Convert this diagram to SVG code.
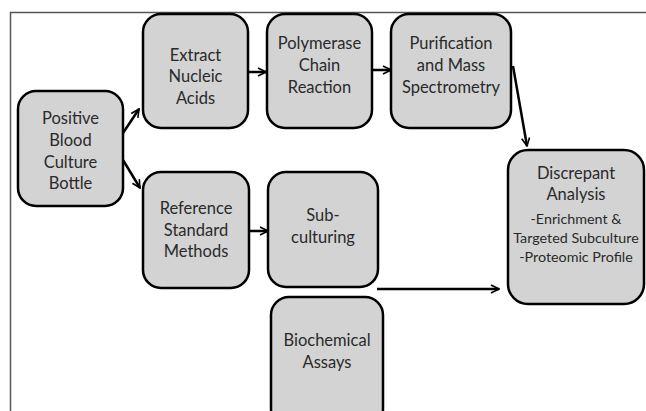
<svg xmlns="http://www.w3.org/2000/svg" width="646" height="411" viewBox="0 0 646 411">
<defs>
<style>
.box{fill:#d3d3d3;stroke:#000;stroke-width:2.5}
.t{font-family:Lato,"Liberation Sans",sans-serif;font-size:16.5px;fill:#2a2a2a;text-anchor:middle}
.s{font-size:14.3px}
.c{fill:none;stroke:#000;stroke-width:2.5}
.frame{fill:none;stroke:#555;stroke-width:1.5}
</style>
<marker id="ah" viewBox="0 0 10 10" refX="9" refY="5" markerWidth="4" markerHeight="4" orient="auto" markerUnits="strokeWidth">
<path d="M1,1 L9,5 L1,9" fill="none" stroke="#000" stroke-width="1.6"/>
</marker>
</defs>
<rect width="646" height="411" fill="#fff"/>
<path class="frame" d="M10.5,411 V12.5 H646"/>
<g id="connectors">
<line class="c" x1="123" y1="133" x2="139" y2="109" marker-end="url(#ah)"/>
<line class="c" x1="123" y1="160" x2="140" y2="188" marker-end="url(#ah)"/>
<line class="c" x1="248" y1="72" x2="266" y2="72" marker-end="url(#ah)"/>
<line class="c" x1="373" y1="70" x2="391" y2="70" marker-end="url(#ah)"/>
<line class="c" x1="513" y1="66" x2="527" y2="146" marker-end="url(#ah)"/>
<line class="c" x1="250" y1="231" x2="268" y2="231" marker-end="url(#ah)"/>
<line class="c" x1="377" y1="289" x2="499" y2="289" marker-end="url(#ah)"/>
</g>
<g id="positive">
<rect class="box" x="18" y="91" width="105" height="115" rx="18"/>
<text class="t" x="70.5" y="124">Positive</text>
<text class="t" x="70.5" y="146">Blood</text>
<text class="t" x="70.5" y="168">Culture</text>
<text class="t" x="70.5" y="189">Bottle</text>
</g>
<g id="extract">
<rect class="box" x="143" y="14" width="105" height="114" rx="18"/>
<text class="t" x="195.5" y="61">Extract</text>
<text class="t" x="195.5" y="82">Nucleic</text>
<text class="t" x="195.5" y="104">Acids</text>
</g>
<g id="pcr">
<rect class="box" x="267" y="14" width="105" height="114" rx="18"/>
<text class="t" x="319.5" y="49">Polymerase</text>
<text class="t" x="319.5" y="71">Chain</text>
<text class="t" x="319.5" y="93">Reaction</text>
</g>
<g id="purification">
<rect class="box" x="391" y="14" width="120" height="114" rx="18"/>
<text class="t" x="451" y="49">Purification</text>
<text class="t" x="451" y="71">and Mass</text>
<text class="t" x="451" y="93">Spectrometry</text>
</g>
<g id="reference">
<rect class="box" x="143" y="172" width="106" height="116" rx="18"/>
<text class="t" x="196" y="214">Reference</text>
<text class="t" x="196" y="236">Standard</text>
<text class="t" x="196" y="257">Methods</text>
</g>
<g id="subculturing">
<rect class="box" x="268" y="172" width="110" height="115" rx="18"/>
<text class="t" x="323" y="221">Sub-</text>
<text class="t" x="323" y="243">culturing</text>
</g>
<g id="biochemical">
<rect class="box" x="271" y="297" width="112" height="130" rx="18"/>
<text class="t" x="327" y="346">Biochemical</text>
<text class="t" x="327" y="368">Assays</text>
</g>
<g id="discrepant">
<rect class="box" x="508" y="150" width="136" height="154" rx="20"/>
<text class="t" x="576" y="179">Discrepant</text>
<text class="t" x="576" y="200">Analysis</text>
<text class="t s" x="576" y="224">-Enrichment &amp;</text>
<text class="t s" x="576" y="243">Targeted Subculture</text>
<text class="t s" x="576" y="262">-Proteomic Profile</text>
</g>
</svg>
